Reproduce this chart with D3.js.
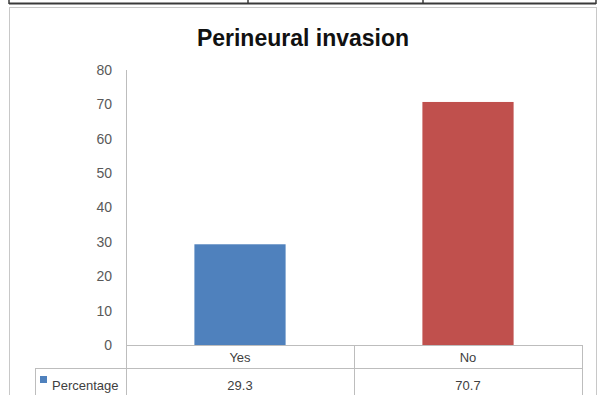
<!DOCTYPE html>
<html>
<head>
<meta charset="utf-8">
<script src="https://cdn.jsdelivr.net/npm/d3@7"></script>
<style>
  html, body { margin: 0; padding: 0; background: #fff; }
  svg { display: block; }
  text { font-family: "Liberation Sans", Arial, sans-serif; }
</style>
</head>
<body>
<svg id="chart" width="603" height="395"></svg>
<script>
// Chart data
const title = "Perineural invasion";
const categories = ["Yes", "No"];
const seriesName = "Percentage";
const percentage = [29.3, 70.7];
const barColors = ["#4f81bd", "#c0504d"];
const yTicks = [0, 10, 20, 30, 40, 50, 60, 70, 80];

const svg = d3.select("#chart");
const W = 603, H = 395;

// Remains of the table row above the chart
const topRule = svg.append("g");
topRule.append("line").attr("x1", 9).attr("x2", 596).attr("y1", 3.5).attr("y2", 3.5)
  .attr("stroke", "#3a3a3a").attr("stroke-width", 2);
[9, 248, 423, 596].forEach(x => {
  topRule.append("line").attr("x1", x).attr("x2", x).attr("y1", 0).attr("y2", 4)
    .attr("stroke", "#3a3a3a").attr("stroke-width", 1.5);
});

// Chart frame
svg.append("rect").attr("x", 9.5).attr("y", 7.5).attr("width", 587).attr("height", 392)
  .attr("fill", "#fff").attr("stroke", "#c8c8c8").attr("stroke-width", 1);

// Title
svg.append("text").attr("x", 303).attr("y", 46)
  .attr("text-anchor", "middle")
  .attr("font-size", 23).attr("font-weight", "bold").attr("fill", "#111")
  .text(title);

// Plot geometry
const plot = { left: 126, right: 582, top: 70, base: 345 };
const rowH = [23, 27];
const x = d3.scaleBand().domain(categories)
  .range([plot.left, plot.right]).paddingInner(0.6).paddingOuter(0.3);
const y = d3.scaleLinear().domain([0, 80]).range([plot.base, plot.top]);

// Bars
svg.append("g").selectAll("rect").data(categories).join("rect")
  .attr("x", d => x(d))
  .attr("y", (d, i) => y(percentage[i]))
  .attr("width", x.bandwidth())
  .attr("height", (d, i) => y(0) - y(percentage[i]))
  .attr("fill", (d, i) => barColors[i]);

// Value axis
const yAxis = d3.axisLeft(y).tickValues(yTicks).tickSize(0).tickPadding(14);
const gy = svg.append("g").attr("transform", `translate(${plot.left},0)`).call(yAxis);
gy.select(".domain").remove();
gy.selectAll("text").attr("font-size", 14).attr("fill", "#595959")
  .attr("font-family", "Liberation Sans, Arial, sans-serif");

const lineColor = "#bdbdbd";
// Vertical axis line running through the data table
svg.append("line").attr("x1", plot.left + 0.5).attr("x2", plot.left + 0.5)
  .attr("y1", plot.top).attr("y2", H).attr("stroke", lineColor);

// Data table
const tbl = svg.append("g");
const r1 = plot.base, r2 = plot.base + rowH[0];
const legendLeft = 35;
tbl.append("line").attr("x1", plot.left).attr("x2", plot.right).attr("y1", r1 + 0.5).attr("y2", r1 + 0.5).attr("stroke", lineColor);
tbl.append("line").attr("x1", legendLeft).attr("x2", plot.right).attr("y1", r2 + 0.5).attr("y2", r2 + 0.5).attr("stroke", lineColor);
tbl.append("line").attr("x1", legendLeft + 0.5).attr("x2", legendLeft + 0.5).attr("y1", r2).attr("y2", H).attr("stroke", lineColor);
const colEdges = [plot.left + x.step() * 1, plot.right];
colEdges.forEach(cx => {
  tbl.append("line").attr("x1", cx + 0.5).attr("x2", cx + 0.5).attr("y1", r1).attr("y2", H).attr("stroke", lineColor);
});

categories.forEach((c, i) => {
  const cx = plot.left + x.step() * (i + 0.5);
  tbl.append("text").attr("x", cx).attr("y", r1 + 17).attr("text-anchor", "middle")
    .attr("font-size", 13).attr("fill", "#404040").text(c);
  tbl.append("text").attr("x", cx).attr("y", r2 + 22).attr("text-anchor", "middle")
    .attr("font-size", 13).attr("fill", "#404040").text(percentage[i]);
});

// Legend key in the table
tbl.append("rect").attr("x", 40).attr("y", r2 + 8).attr("width", 7).attr("height", 7).attr("fill", barColors[0]);
tbl.append("text").attr("x", 52).attr("y", r2 + 22).attr("font-size", 13).attr("fill", "#404040").text(seriesName);
</script>
</body>
</html>
